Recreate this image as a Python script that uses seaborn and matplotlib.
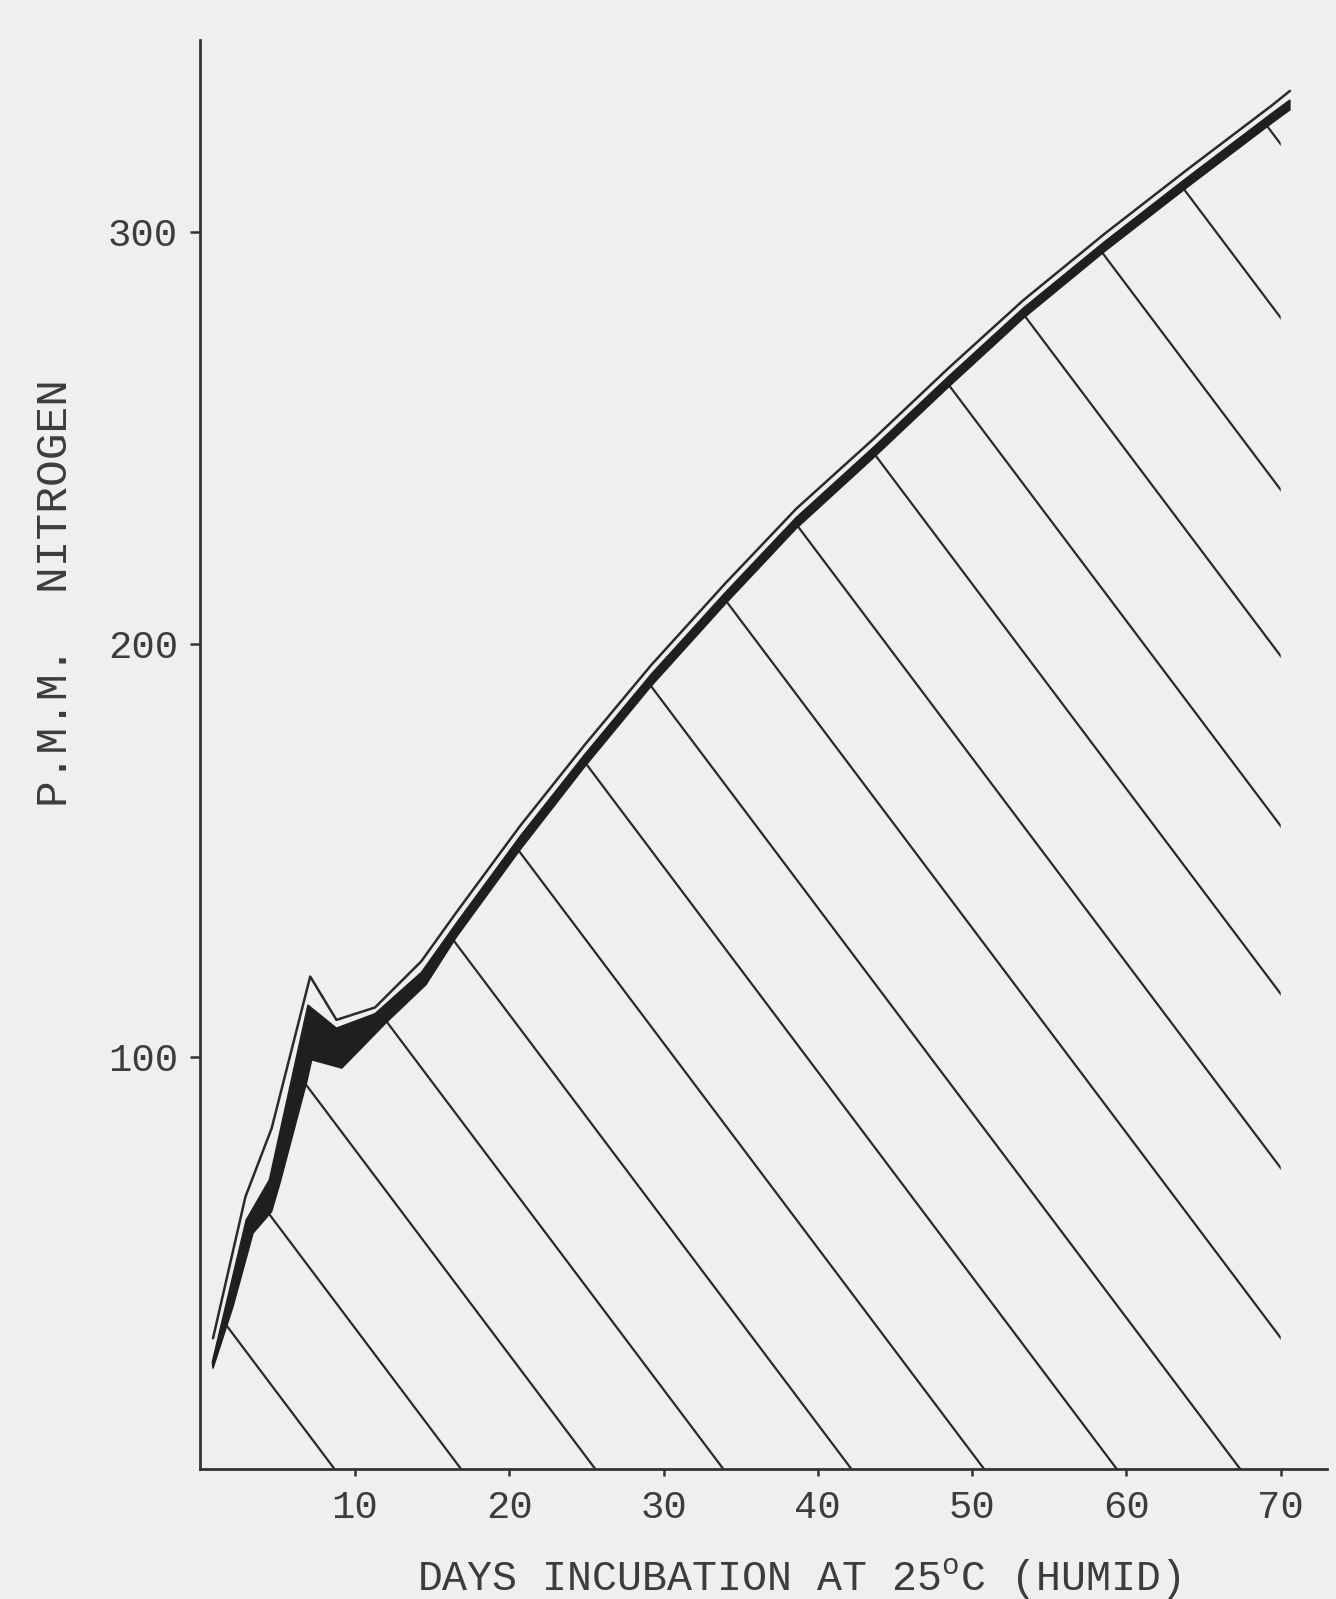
import numpy as np
import matplotlib
matplotlib.use("Agg")
import matplotlib.pyplot as plt
from matplotlib.patches import Polygon
import seaborn as sns

# Cumulative mineral nitrogen (p.p.m.) during incubation at 25 C (humid)
# Thin outer trace
thin_days = [0.8, 2.9, 4.6, 7.1, 8.8, 11.3, 14.3, 16.6, 20.7, 24.9, 29.2, 34.0,
             38.6, 43.6, 48.5, 53.3, 58.6, 63.9, 69.4, 70.6]
thin_ppm = [31.8, 66.1, 82.7, 119.5, 109.0, 112.0, 123.2, 135.2, 156.0, 175.7, 195.0, 214.8,
            232.9, 249.8, 267.1, 283.4, 299.6, 315.0, 330.6, 334.2]

# Solid black band: upper and lower edges
band_top_days = [0.75, 2.95, 4.45, 6.95, 8.8, 11.3, 14.3, 16.6, 20.7, 24.9, 29.2, 34.0,
                 38.6, 43.6, 48.5, 53.3, 58.6, 63.9, 69.4, 70.6]
band_top_ppm = [26.0, 60.5, 70.2, 112.6, 107.0, 110.5, 120.5, 132.6, 153.5, 173.4, 192.8, 212.6,
                230.8, 247.8, 265.1, 281.5, 297.7, 313.1, 328.7, 332.0]
band_bot_days = [0.8, 2.1, 3.4, 4.6, 5.14, 6.88, 7.2, 9.15, 12.1, 14.6, 16.6, 20.7, 24.9,
                 29.2, 34.0, 38.6, 43.6, 48.5, 53.3, 58.6, 63.9, 69.4, 70.6]
band_bot_ppm = [24.5, 39.5, 57.3, 62.5, 69.4, 94.0, 99.3, 97.3, 108.6, 117.5, 129.2, 150.2, 170.4,
                189.9, 209.8, 228.1, 245.2, 262.5, 279.0, 295.3, 310.7, 326.3, 329.6]

# Diagonal shading under the band
hatch_base_days = [8.7, 16.9, 25.6, 33.9, 42.2, 50.8, 59.4, 67.4]      # where strokes meet the x axis
hatch_edge_ppm = [31.9, 73.1, 115.3, 156.0, 197.2, 237.5, 279.2, 321.3]  # where strokes stop at the right
hatch_edge_day = 70.0
hatch_slope = 4.97  # p.p.m. per day, falling to the right

x_ticks = [10, 20, 30, 40, 50, 60, 70]
y_ticks = [100, 200, 300]

paper = "#efefef"
ink = "#2a2a2a"
text_ink = "#3c3c3c"

sns.set_theme(style="white", rc={"axes.facecolor": paper, "figure.facecolor": paper})
plt.rcParams["font.family"] = ["Liberation Mono", "DejaVu Sans"]
plt.rcParams["mathtext.fontset"] = "custom"
plt.rcParams["mathtext.rm"] = "Liberation Mono"

fig = plt.figure(figsize=(13.36, 15.99), dpi=100)
ax = fig.add_axes([0.14985, 0.08099, 0.8434, 0.8939])
ax.set_xlim(-0.03, 73.0)
ax.set_ylim(0, 346.5)

# Shading strokes, clipped to the region below the band and left of the end line
bot_x = np.array(band_bot_days)
bot_y = np.array(band_bot_ppm)
keep = bot_x < hatch_edge_day
edge_y = np.interp(hatch_edge_day, bot_x, bot_y)
clip_x = np.concatenate([[bot_x[0]], bot_x[keep], [hatch_edge_day, hatch_edge_day]])
clip_y = np.concatenate([[0.0], bot_y[keep], [edge_y, 0.0]])
clip = Polygon(np.column_stack([clip_x, clip_y]), closed=True, transform=ax.transData,
               facecolor="none", edgecolor="none")
ax.add_patch(clip)

rise = 400.0
for b in hatch_base_days:
    ln, = ax.plot([b, b - rise / hatch_slope], [0, rise], color=ink, lw=1.6,
                  solid_capstyle="butt", zorder=2)
    ln.set_clip_path(clip)
for v in hatch_edge_ppm:
    ln, = ax.plot([hatch_edge_day + 0.5, hatch_edge_day - rise / hatch_slope],
                  [v - 0.5 * hatch_slope, v + rise], color=ink, lw=1.6,
                  solid_capstyle="butt", zorder=2)
    ln.set_clip_path(clip)

# Black band
band_x = np.concatenate([band_top_days, band_bot_days[::-1]])
band_y = np.concatenate([band_top_ppm, band_bot_ppm[::-1]])
ax.fill(band_x, band_y, color="#1f1f1f", lw=1.0, ec="#1f1f1f", zorder=3)

# Thin outer trace
sns.lineplot(x=thin_days, y=thin_ppm, ax=ax, color=ink, lw=1.8, sort=False,
             estimator=None, zorder=4)

# Axes styling
for side in ["top", "right"]:
    ax.spines[side].set_visible(False)
for side in ["left", "bottom"]:
    ax.spines[side].set_color("#333333")
    ax.spines[side].set_linewidth(2.0)

ax.set_xticks(x_ticks)
ax.set_yticks(y_ticks)
ax.set_xticklabels([str(t) for t in x_ticks])
ax.set_yticklabels([str(t) for t in y_ticks])
ax.tick_params(axis="x", direction="out", length=5, width=1.8, color="#333333",
               labelsize=28, labelcolor=text_ink, pad=10, bottom=True)
ax.tick_params(axis="y", direction="out", length=7, width=1.8, color="#333333",
               labelsize=28, labelcolor=text_ink, pad=9, left=True)

ax.set_xlabel(r"DAYS INCUBATION AT 25$^{\mathrm{o}}$C (HUMID)", fontsize=30, color=text_ink)
ax.xaxis.set_label_coords(0.531, -0.0767)
ax.xaxis.label.set_va("center")
ax.set_ylabel("P.M.M.  NITROGEN", fontsize=32, color=text_ink)
ax.yaxis.set_label_coords(-0.128, 0.613)
ax.yaxis.label.set_va("center")

fig.savefig("out.png", dpi=100, facecolor=paper)
